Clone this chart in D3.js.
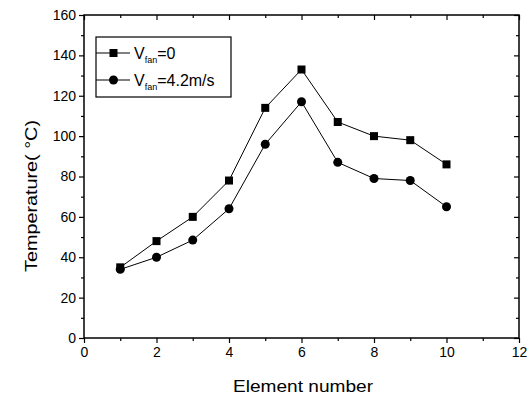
<!DOCTYPE html>
<html>
<head>
<meta charset="utf-8">
<script src="https://cdn.jsdelivr.net/npm/d3@7"></script>
<style>
  body { margin: 0; background: #fff; }
  text { font-family: Arial, "Liberation Sans", sans-serif; fill: #000; }
</style>
</head>
<body>
<div id="chart"></div>
<script>
var width = 529,
    height = 400;

var elements = [1, 2, 3, 4, 5, 6, 7, 8, 9, 10];
var tempFan0 = [35, 48, 60, 78, 114, 133, 107, 100, 98, 86];
var tempFan42 = [34, 40, 48.5, 64, 96, 117, 87, 79, 78, 65];
var xTicks = [0, 2, 4, 6, 8, 10, 12];
var yTicks = [0, 20, 40, 60, 80, 100, 120, 140, 160];

var plotL = 84, plotR = 519, plotT = 15, plotB = 338;

var x = d3.scaleLinear().domain([0, 12]).range([plotL, plotR]);
var y = d3.scaleLinear().domain([0, 160]).range([plotB, plotT]);

var svg = d3.select("#chart").append("svg")
    .attr("width", width)
    .attr("height", height);

// frame
svg.append("rect")
    .attr("x", plotL).attr("y", plotT)
    .attr("width", plotR - plotL).attr("height", plotB - plotT)
    .attr("fill", "none").attr("stroke", "#000").attr("stroke-width", 1.5);

var xMinor = d3.range(1, 12, 2);
var yMinor = d3.range(10, 160, 20);

// bottom axis
svg.append("g").attr("transform", "translate(0," + plotB + ")")
    .call(d3.axisBottom(x).tickValues(xTicks).tickSize(5).tickPadding(4).tickFormat(d3.format("d")));
svg.append("g").attr("transform", "translate(0," + plotB + ")")
    .call(d3.axisBottom(x).tickValues(xMinor).tickSize(3).tickFormat(""));
// top axis (inward)
svg.append("g").attr("transform", "translate(0," + plotT + ")")
    .call(d3.axisBottom(x).tickValues(xTicks).tickSize(5).tickFormat(""));
svg.append("g").attr("transform", "translate(0," + plotT + ")")
    .call(d3.axisBottom(x).tickValues(xMinor).tickSize(3).tickFormat(""));
// left axis
svg.append("g").attr("transform", "translate(" + plotL + ",0)")
    .call(d3.axisLeft(y).tickValues(yTicks).tickSize(5).tickPadding(3));
svg.append("g").attr("transform", "translate(" + plotL + ",0)")
    .call(d3.axisLeft(y).tickValues(yMinor).tickSize(3).tickFormat(""));
// right axis (inward)
svg.append("g").attr("transform", "translate(" + plotR + ",0)")
    .call(d3.axisLeft(y).tickValues(yTicks).tickSize(5).tickFormat(""));
svg.append("g").attr("transform", "translate(" + plotR + ",0)")
    .call(d3.axisLeft(y).tickValues(yMinor).tickSize(3).tickFormat(""));

svg.selectAll(".domain").remove();
svg.selectAll(".tick line").attr("stroke", "#000").attr("stroke-width", 1.2);
svg.selectAll(".tick text").attr("font-size", 14).attr("fill", "#000")
    .style("font-family", "Arial, 'Liberation Sans', sans-serif");

// axis titles
svg.append("text")
    .attr("x", 303).attr("y", 392)
    .attr("text-anchor", "middle").attr("font-size", 17)
    .attr("textLength", 140).attr("lengthAdjust", "spacingAndGlyphs")
    .text("Element number");
svg.append("text")
    .attr("transform", "translate(37,196) rotate(-90)")
    .attr("text-anchor", "middle").attr("font-size", 17)
    .attr("textLength", 152).attr("lengthAdjust", "spacingAndGlyphs")
    .text("Temperature( °C)");

var line = d3.line()
    .x(function (d, i) { return x(elements[i]); })
    .y(function (d) { return y(d); });

svg.append("path").datum(tempFan0)
    .attr("d", line).attr("fill", "none").attr("stroke", "#000").attr("stroke-width", 1);
svg.append("path").datum(tempFan42)
    .attr("d", line).attr("fill", "none").attr("stroke", "#000").attr("stroke-width", 1);

svg.selectAll(".sq").data(tempFan0).enter().append("rect")
    .attr("x", function (d, i) { return x(elements[i]) - 4; })
    .attr("y", function (d) { return y(d) - 4; })
    .attr("width", 8).attr("height", 8).attr("fill", "#000");

svg.selectAll(".ci").data(tempFan42).enter().append("circle")
    .attr("cx", function (d, i) { return x(elements[i]); })
    .attr("cy", function (d) { return y(d); })
    .attr("r", 4.5).attr("fill", "#000");

// legend
var lg = svg.append("g");
lg.append("rect")
    .attr("x", 96).attr("y", 37).attr("width", 135).attr("height", 60)
    .attr("fill", "#fff").attr("stroke", "#000").attr("stroke-width", 1.2);
var rows = [53, 80];
rows.forEach(function (ry, k) {
    lg.append("line").attr("x1", 96).attr("x2", 130).attr("y1", ry).attr("y2", ry)
        .attr("stroke", "#000").attr("stroke-width", 1);
    if (k == 0) {
        lg.append("rect").attr("x", 109.5).attr("y", ry - 4).attr("width", 8).attr("height", 8).attr("fill", "#000");
    } else {
        lg.append("circle").attr("cx", 113.5).attr("cy", ry).attr("r", 4.5).attr("fill", "#000");
    }
    var t = lg.append("text").attr("x", 134).attr("y", ry + 6).attr("font-size", 16);
    t.append("tspan").text("V");
    t.append("tspan").attr("font-size", 9).attr("dy", 4).text("fan");
    t.append("tspan").attr("dy", -4).text(k == 0 ? "=0" : "=4.2m/s");
});
</script>
</body>
</html>
